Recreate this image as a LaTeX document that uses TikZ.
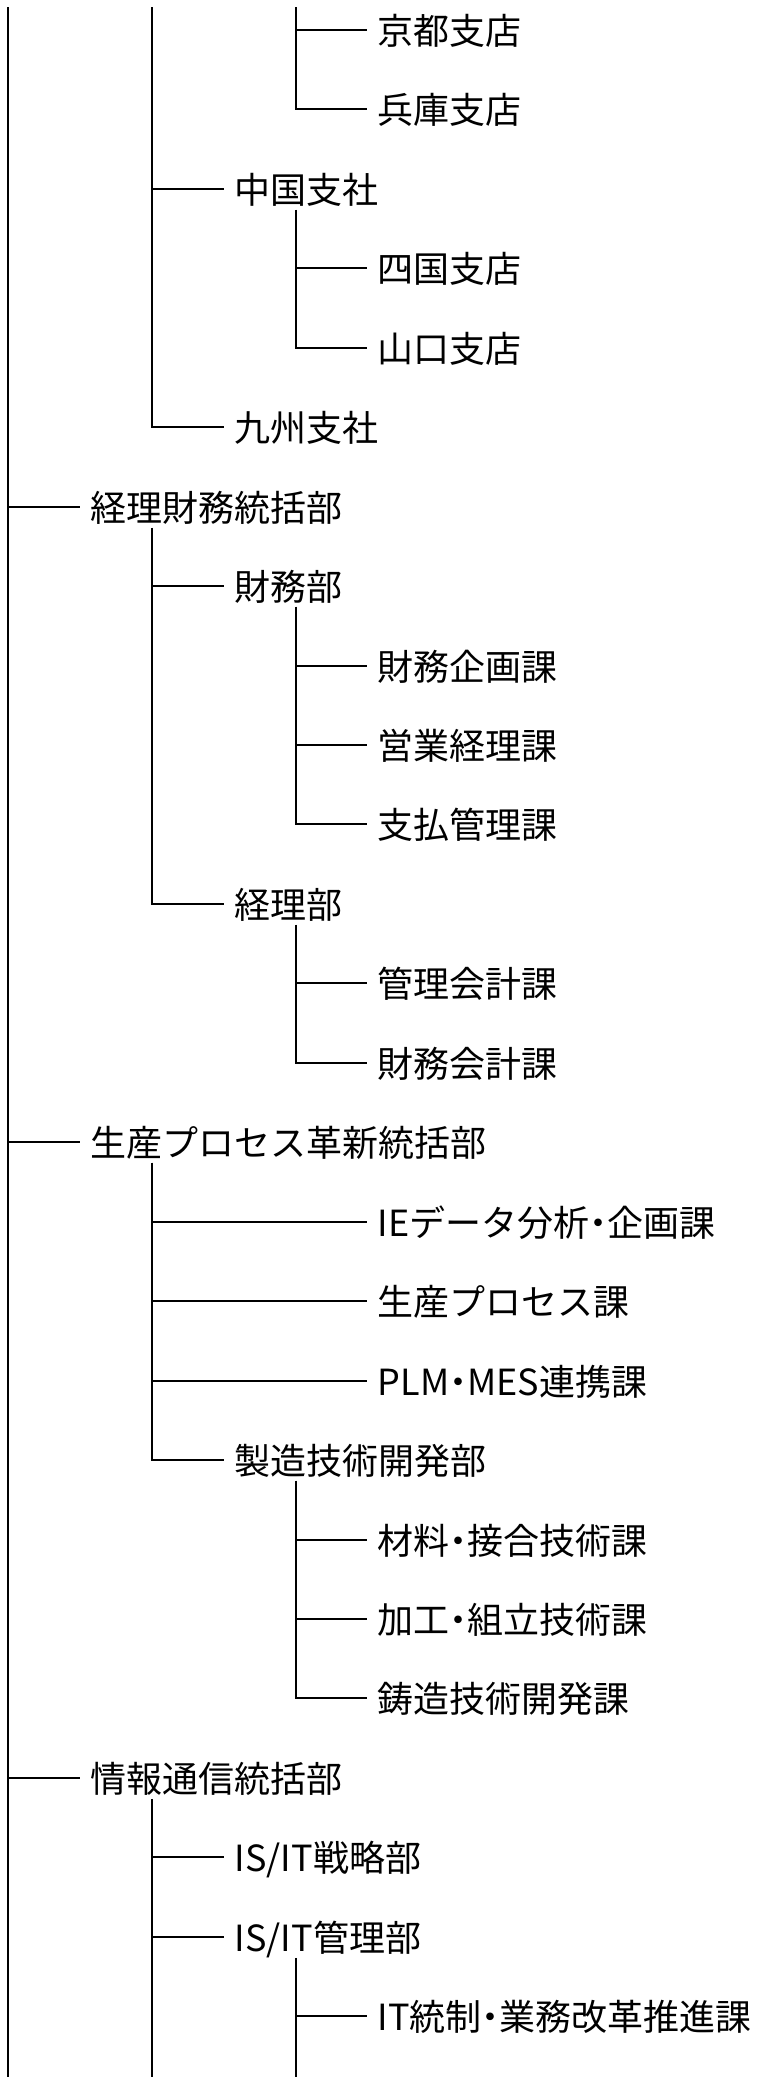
\documentclass[tikz,border=0pt]{standalone}
\usepackage{fontspec}
\setmainfont{Noto Sans CJK JP}
\newfontfamily\dotfont{Noto Sans CJK JP}[RawFeature=+palt]
\newcommand{\nakaguro}{{\dotfont ・}}
\usepackage{tikz}
\usetikzlibrary{positioning}

\tikzset{
  unit/.style={anchor=west, inner xsep=10pt, inner ysep=2pt,
    text height=32pt, text depth=4pt,
    font=\fontsize{36}{40}\selectfont},
  branch/.style={line width=1.6pt},
}

\begin{document}
\begin{tikzpicture}[x=1pt,y=-1pt,branch]
  \useasboundingbox (0,0) rectangle (772,2077);
  % lines coming in from above and going out below
  \coordinate (topa) at (8,7);
  \coordinate (topb) at (152,7);
  \coordinate (topc) at (296,7);
  \coordinate (bota) at (8,2077);
  \coordinate (botb) at (152,2077);
  \coordinate (botc) at (296,2077);

  \node[unit] (kyoto)    at (367,30)   {京都支店};
  \node[unit] (hyogo)    at (367,109)  {兵庫支店};
  \node[unit] (chugoku)  at (224,189)  {中国支社};
  \node[unit] (shikoku)  at (367,268)  {四国支店};
  \node[unit] (yamaguchi) at (367,348) {山口支店};
  \node[unit] (kyushu)   at (224,427)  {九州支社};

  \node[unit] (keiri)    at (80,507)   {経理財務統括部};
  \node[unit] (zaimubu)  at (224,586)  {財務部};
  \node[unit] (zkikaku)  at (367,666)  {財務企画課};
  \node[unit] (eigyo)    at (367,745)  {営業経理課};
  \node[unit] (shiharai) at (367,824)  {支払管理課};
  \node[unit] (keiribu)  at (224,904)  {経理部};
  \node[unit] (kanri)    at (367,983)  {管理会計課};
  \node[unit] (zkaikei)  at (367,1063) {財務会計課};

  \node[unit] (seisan)   at (80,1142)  {生産プロセス革新統括部};
  \node[unit] (ie)       at (367,1222) {IEデータ分析\nakaguro 企画課};
  \node[unit] (process)  at (367,1301) {生産プロセス課};
  \node[unit] (plm)      at (367,1381) {PLM\nakaguro MES連携課};
  \node[unit] (seizo)    at (224,1460) {製造技術開発部};
  \node[unit] (zairyo)   at (367,1540) {材料\nakaguro 接合技術課};
  \node[unit] (kako)     at (367,1619) {加工\nakaguro 組立技術課};
  \node[unit] (chuzo)    at (367,1698) {鋳造技術開発課};

  \node[unit] (joho)     at (80,1778)  {情報通信統括部};
  \node[unit] (senryaku) at (224,1857) {IS/IT戦略部};
  \node[unit] (itkanri)  at (224,1937) {IS/IT管理部};
  \node[unit] (tosei)    at (367,2016) {IT統制\nakaguro 業務改革推進課};

  % top level
  \draw (topa) -- (bota);
  \draw (keiri.west -| topa) -- (keiri.west);
  \draw (seisan.west -| topa) -- (seisan.west);
  \draw (joho.west -| topa) -- (joho.west);

  % upper part
  \draw (topb) |- (chugoku.west);
  \draw (topb) |- (kyushu.west);
  \draw (topc) |- (kyoto.west);
  \draw (topc) |- (hyogo.west);
  \draw ([xshift=72pt]chugoku.south west) |- (shikoku.west);
  \draw ([xshift=72pt]chugoku.south west) |- (yamaguchi.west);

  % keiri
  \draw ([xshift=72pt]keiri.south west) |- (zaimubu.west);
  \draw ([xshift=72pt]keiri.south west) |- (keiribu.west);
  \draw ([xshift=72pt]zaimubu.south west) |- (zkikaku.west);
  \draw ([xshift=72pt]zaimubu.south west) |- (eigyo.west);
  \draw ([xshift=72pt]zaimubu.south west) |- (shiharai.west);
  \draw ([xshift=72pt]keiribu.south west) |- (kanri.west);
  \draw ([xshift=72pt]keiribu.south west) |- (zkaikei.west);

  % seisan
  \draw ([xshift=72pt]seisan.south west) |- (ie.west);
  \draw ([xshift=72pt]seisan.south west) |- (process.west);
  \draw ([xshift=72pt]seisan.south west) |- (plm.west);
  \draw ([xshift=72pt]seisan.south west) |- (seizo.west);
  \draw ([xshift=72pt]seizo.south west) |- (zairyo.west);
  \draw ([xshift=72pt]seizo.south west) |- (kako.west);
  \draw ([xshift=72pt]seizo.south west) |- (chuzo.west);

  % joho
  \draw ([xshift=72pt]joho.south west) -- (botb);
  \draw (senryaku.west -| botb) -- (senryaku.west);
  \draw (itkanri.west -| botb) -- (itkanri.west);
  \draw ([xshift=72pt]itkanri.south west) -- (botc);
  \draw (tosei.west -| botc) -- (tosei.west);
\end{tikzpicture}
\end{document}
